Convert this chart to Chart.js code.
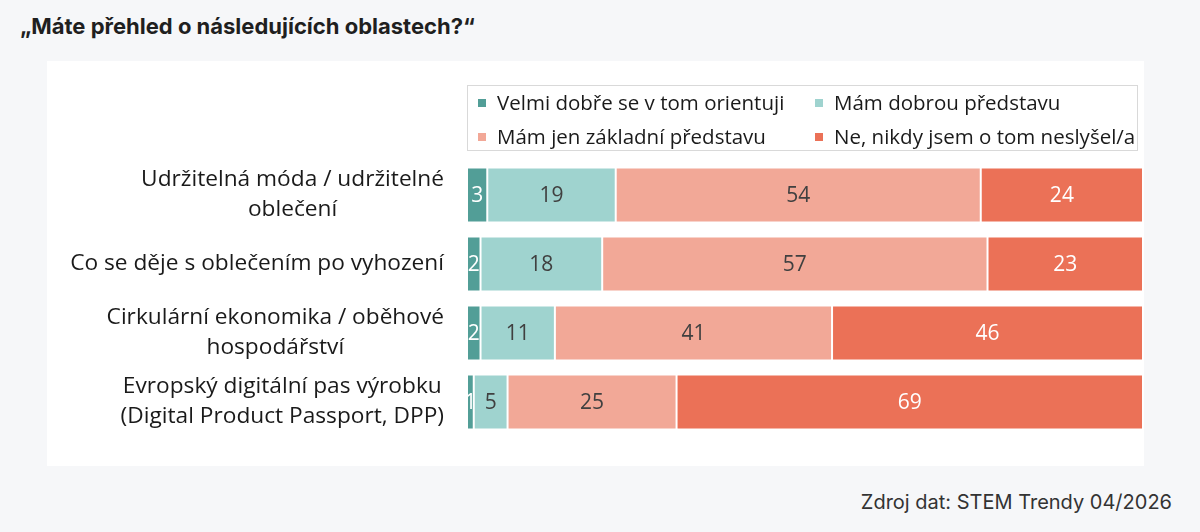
<!DOCTYPE html>
<html>
<head>
<meta charset="utf-8">
<script src="https://cdn.jsdelivr.net/npm/chart.js@4.4.1/dist/chart.umd.min.js"></script>
<style>
  html,body{margin:0;padding:0;background:#f6f7f9;width:1200px;height:532px;overflow:hidden;}
  #title{position:absolute;left:20px;top:13px;font-family:Inter,"Liberation Sans",Arial,sans-serif;font-weight:bold;font-size:22px;color:#1f1f1f;}
  #box{position:absolute;left:47px;top:61px;width:1097px;height:405px;background:#ffffff;}
  #source{position:absolute;right:28px;top:490px;font-family:Inter,"Liberation Sans",Arial,sans-serif;font-size:20px;color:#333;}
</style>
</head>
<body>
<div id="title">„Máte přehled o následujících oblastech?“</div>
<div id="box"><canvas id="c" width="1097" height="405"></canvas></div>
<div id="source">Zdroj dat: STEM Trendy 04/2026</div>
<script>
const categories = [
  ["Udržitelná móda / udržitelné", "oblečení"],
  ["Co se děje s oblečením po vyhození"],
  ["Cirkulární ekonomika / oběhové", "hospodářství"],
  ["Evropský digitální pas výrobku", "(Digital Product Passport, DPP)"]
];
const seriesNames = [
  "Velmi dobře se v tom orientuji",
  "Mám dobrou představu",
  "Mám jen základní představu",
  "Ne, nikdy jsem o tom neslyšel/a"
];
const velmiDobre = [3, 2, 2, 1];
const dobraPredstava = [19, 18, 11, 5];
const zakladniPredstava = [54, 57, 41, 25];
const nikdyNeslysel = [24, 23, 46, 69];
const seriesColors = ["#529e97", "#9fd3cf", "#f2a897", "#eb7157"];
const labelColors = ["#ffffff", "#404040", "#404040", "#ffffff"];

const FONT = "'Open Sans', Lato, sans-serif";

const customDraw = {
  id: 'customDraw',
  afterDatasetsDraw(chart) {
    const ctx = chart.ctx;
    ctx.save();
    ctx.font = "21px " + FONT;
    ctx.textAlign = "center";
    ctx.textBaseline = "middle";
    chart.data.datasets.forEach((ds, di) => {
      const meta = chart.getDatasetMeta(di);
      meta.data.forEach((el, i) => {
        const cx = (el.x + el.base) / 2;
        ctx.fillStyle = labelColors[di];
        ctx.fillText(String(ds.data[i]), cx, el.y + 1);
      });
    });
    // category labels
    const yScale = chart.scales.y;
    const right = chart.chartArea.left - 23;
    ctx.fillStyle = "#1a1a1a";
    ctx.font = "22.7px " + FONT;
    const lh = 30;
    categories.forEach((lines, i) => {
      const yc = yScale.getPixelForValue(i);
      let maxW = 0;
      lines.forEach(l => { maxW = Math.max(maxW, ctx.measureText(l).width); });
      const cx = right - maxW / 2;
      const y0 = yc - (lines.length - 1) * lh / 2;
      lines.forEach((l, k) => ctx.fillText(l, cx, y0 + k * lh));
    });
    // legend
    const lx = chart.chartArea.left;
    ctx.strokeStyle = "#d9d9d9";
    ctx.lineWidth = 1;
    ctx.strokeRect(lx + 0.5, 24.5, 670, 65);
    ctx.font = "20.5px " + FONT;
    ctx.textAlign = "left";
    const pos = [[lx + 11, 42], [lx + 348, 42], [lx + 11, 76], [lx + 348, 76]];
    chart.data.datasets.forEach((ds, di) => {
      const [px, py] = pos[di];
      ctx.fillStyle = ds.backgroundColor;
      ctx.fillRect(px, py - 4, 8, 8);
      ctx.fillStyle = "#1a1a1a";
      ctx.fillText(ds.label, px + 19, py + 1);
    });
    ctx.restore();
  }
};

new Chart(document.getElementById('c'), {
  type: 'bar',
  data: {
    labels: categories.map(c => c.join(" ")),
    datasets: [
      { label: seriesNames[0], data: velmiDobre, backgroundColor: seriesColors[0] },
      { label: seriesNames[1], data: dobraPredstava, backgroundColor: seriesColors[1] },
      { label: seriesNames[2], data: zakladniPredstava, backgroundColor: seriesColors[2] },
      { label: seriesNames[3], data: nikdyNeslysel, backgroundColor: seriesColors[3] }
    ].map(d => Object.assign(d, {
      borderColor: "#ffffff", borderWidth: 1, borderSkipped: false,
      barPercentage: 0.8, categoryPercentage: 1
    }))
  },
  options: {
    indexAxis: 'y',
    responsive: false,
    animation: false,
    layout: { padding: { left: 420, right: 1, top: 99.5, bottom: 29.5 } },
    scales: {
      x: { display: false, stacked: true, min: 0, max: 100 },
      y: { display: false, stacked: true }
    },
    plugins: { legend: { display: false }, tooltip: { enabled: false } }
  },
  plugins: [customDraw]
});
</script>
</body>
</html>
